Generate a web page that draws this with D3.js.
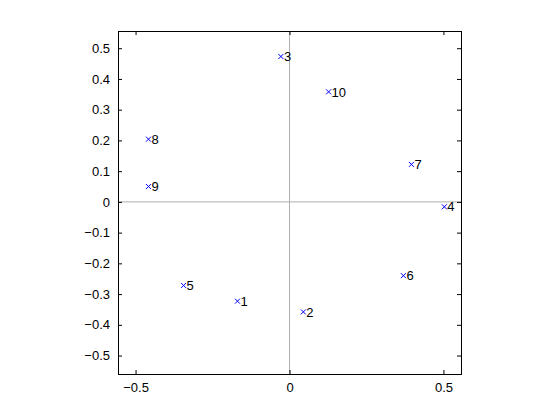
<!DOCTYPE html>
<html>
<head>
<meta charset="utf-8">
<script src="https://cdn.jsdelivr.net/npm/d3@7"></script>
<style>
  body { margin: 0; background: #fff; }
  text { font-family: "Liberation Sans", Arial, sans-serif; }
</style>
</head>
<body>
<div id="chart"></div>
<script>
// point labels and their coordinates
const labels = ['1', '2', '3', '4', '5', '6', '7', '8', '9', '10']
const xs = [-0.169, 0.045, -0.028, 0.503, -0.344, 0.370, 0.396, -0.458, -0.458, 0.127]
const ys = [-0.323, -0.358, 0.473, -0.016, -0.272, -0.240, 0.122, 0.204, 0.050, 0.358]
const xTicks = [-0.5, 0, 0.5]
const yTicks = [-0.5, -0.4, -0.3, -0.2, -0.1, 0, 0.1, 0.2, 0.3, 0.4, 0.5]

const width = 560
const height = 420
const margin = { top: 31, right: 99, bottom: 46, left: 118 }
const w = width - margin.left - margin.right
const h = height - margin.top - margin.bottom

const svg = d3.select('#chart')
  .append('svg')
  .attr('width', width)
  .attr('height', height)

const x = d3.scaleLinear().domain([-0.557, 0.557]).range([0, w])
const y = d3.scaleLinear().domain([-0.56, 0.556]).range([h, 0])

const g = svg.append('g')
  .attr('transform', `translate(${margin.left},${margin.top})`)

// zero lines
g.append('line')
  .attr('x1', x(0)).attr('x2', x(0))
  .attr('y1', 0).attr('y2', h)
  .attr('stroke', '#b0b0b0')
g.append('line')
  .attr('x1', 0).attr('x2', w)
  .attr('y1', y(0)).attr('y2', y(0))
  .attr('stroke', '#b0b0b0')

const fmt = d => d3.format('.1~f')(d)

const styleAxis = sel => {
  sel.select('.domain').remove()
  sel.selectAll('text').attr('font-size', 13).attr('fill', '#000')
  sel.selectAll('line').attr('stroke', '#000')
}

g.append('g')
  .attr('transform', `translate(0,${h})`)
  .call(d3.axisBottom(x).tickValues(xTicks).tickFormat(fmt).tickSizeInner(-4).tickSizeOuter(0).tickPadding(9))
  .call(styleAxis)
g.append('g')
  .call(d3.axisTop(x).tickValues(xTicks).tickFormat('').tickSizeInner(-4).tickSizeOuter(0))
  .call(styleAxis)
g.append('g')
  .call(d3.axisLeft(y).tickValues(yTicks).tickFormat(fmt).tickSizeInner(-4).tickSizeOuter(0).tickPadding(8))
  .call(styleAxis)
g.append('g')
  .attr('transform', `translate(${w},0)`)
  .call(d3.axisRight(y).tickValues(yTicks).tickFormat('').tickSizeInner(-4).tickSizeOuter(0))
  .call(styleAxis)

// box
g.append('rect')
  .attr('width', w).attr('height', h)
  .attr('fill', 'none')
  .attr('stroke', '#000')
  .attr('shape-rendering', 'crispEdges')

const pts = g.selectAll('.pt')
  .data(labels)
  .join('g')
  .attr('class', 'pt')
  .attr('transform', (d, i) => `translate(${x(xs[i])},${y(ys[i])})`)

pts.append('path')
  .attr('d', 'M-2.5,-2.5L2.5,2.5M-2.5,2.5L2.5,-2.5')
  .attr('stroke', '#0000ff')
  .attr('stroke-width', 1)

pts.append('text')
  .attr('x', 3)
  .attr('dy', '0.36em')
  .attr('font-size', 13)
  .attr('fill', '#000')
  .text(d => d)
</script>
</body>
</html>
